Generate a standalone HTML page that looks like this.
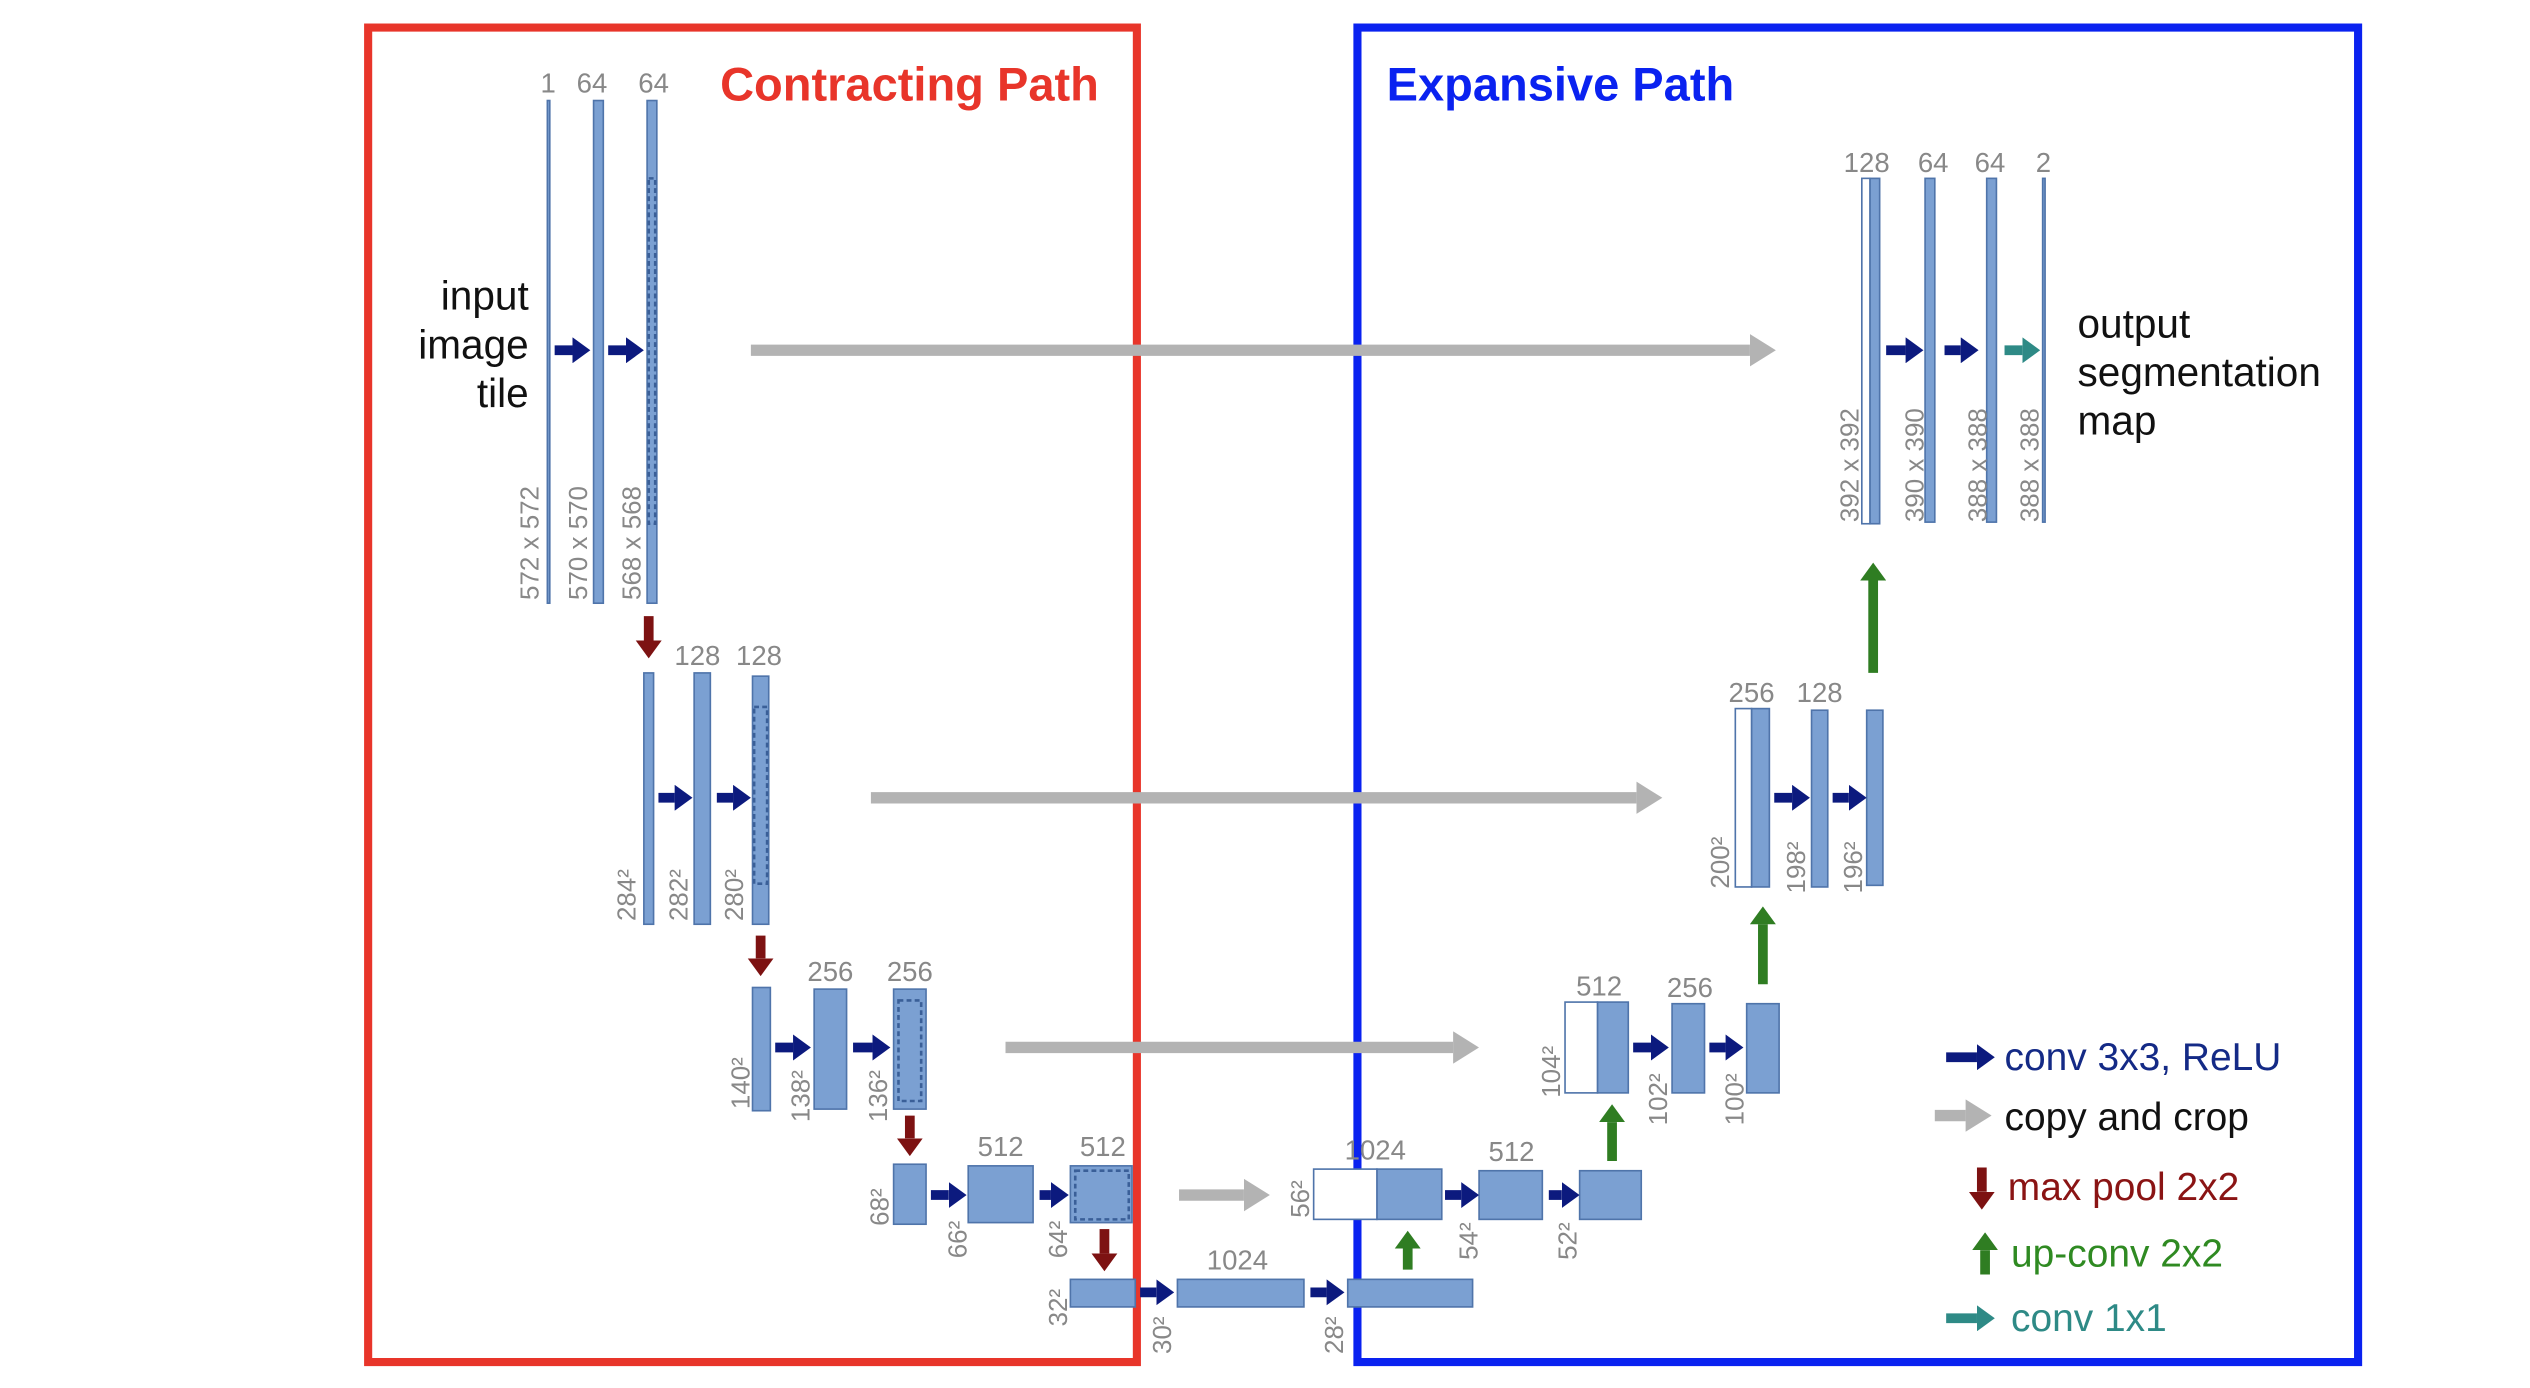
<!DOCTYPE html>
<html><head><meta charset="utf-8"><style>
html,body{margin:0;padding:0;background:#fff;}
svg{display:block}
</style></head><body>
<svg width="2530" height="1388" viewBox="0 0 1560 856" preserveAspectRatio="none" xmlns="http://www.w3.org/2000/svg" font-family="Liberation Sans, sans-serif">
<defs>
<marker id="hn" markerUnits="userSpaceOnUse" markerWidth="11" markerHeight="16" refX="0" refY="8" orient="auto"><path d="M0,0 L11,8 L0,16 z" fill="#0c1a7e"/></marker>
<marker id="hg" markerUnits="userSpaceOnUse" markerWidth="16" markerHeight="20" refX="0" refY="10" orient="auto"><path d="M0,0 L16,10 L0,20 z" fill="#b3b3b3"/></marker>
<marker id="hr" markerUnits="userSpaceOnUse" markerWidth="11" markerHeight="16" refX="0" refY="8" orient="auto"><path d="M0,0 L11,8 L0,16 z" fill="#7d1212"/></marker>
<marker id="hgr" markerUnits="userSpaceOnUse" markerWidth="11" markerHeight="16" refX="0" refY="8" orient="auto"><path d="M0,0 L11,8 L0,16 z" fill="#2f7d22"/></marker>
<marker id="ht" markerUnits="userSpaceOnUse" markerWidth="11" markerHeight="16" refX="0" refY="8" orient="auto"><path d="M0,0 L11,8 L0,16 z" fill="#2e8a86"/></marker>
</defs>

<!-- boxes -->
<rect x="227" y="17" width="474" height="823" fill="none" stroke="#e8352a" stroke-width="5"/>
<rect x="837" y="17" width="617" height="823" fill="none" stroke="#0a22f0" stroke-width="5"/>
<text x="444" y="62" font-family="Liberation Sans, sans-serif" font-weight="bold" font-size="29" fill="#e8352a">Contracting Path</text>
<text x="855" y="62" font-weight="bold" font-size="29" fill="#0a22f0">Expansive Path</text>

<g fill="#7ba0d2" stroke="#4f74aa" stroke-width="1">
<!-- L1 -->
<rect x="337.5" y="62" width="1.5" height="310"/>
<rect x="366" y="62" width="6" height="310"/>
<rect x="399" y="62" width="6" height="310"/>
<!-- L2 -->
<rect x="397" y="415" width="6" height="155"/>
<rect x="428" y="415" width="10" height="155"/>
<rect x="464" y="417" width="10" height="153"/>
<!-- L3 -->
<rect x="464" y="609" width="11" height="76"/>
<rect x="502" y="610" width="20" height="74"/>
<rect x="551" y="610" width="20" height="74"/>
<!-- L4 -->
<rect x="551" y="718" width="20" height="37"/>
<rect x="597" y="719" width="40" height="35"/>
<rect x="660" y="719" width="38" height="35"/>
<!-- L5 -->
<rect x="660" y="789" width="40" height="17"/>
<rect x="726" y="789" width="78" height="17"/>
<rect x="831" y="789" width="77" height="17"/>
<!-- E4 -->
<rect x="849" y="721" width="40" height="31"/>
<rect x="912" y="722" width="39" height="30"/>
<rect x="974" y="722" width="38" height="30"/>
<!-- E3 -->
<rect x="985" y="618" width="19" height="56"/>
<rect x="1031" y="619" width="20" height="55"/>
<rect x="1077" y="619" width="20" height="55"/>
<!-- E2 -->
<rect x="1080" y="437" width="11" height="110"/>
<rect x="1117" y="438" width="10" height="109"/>
<rect x="1151" y="438" width="10" height="108"/>
<!-- E1 -->
<rect x="1153" y="110" width="6" height="213"/>
<rect x="1187" y="110" width="6" height="212"/>
<rect x="1225" y="110" width="6" height="212"/>
<rect x="1259.5" y="110" width="1.5" height="212"/>
</g>
<g fill="#fff" stroke="#4f74aa" stroke-width="1">
<rect x="810" y="721" width="39" height="31"/>
<rect x="965" y="618" width="20" height="56"/>
<rect x="1070" y="437" width="10" height="110"/>
<rect x="1148" y="110" width="5" height="213"/>
</g>
<!-- dashed crops -->
<g fill="none" stroke="#3a5f98" stroke-width="1.6" stroke-dasharray="3,2">
<rect x="400" y="110" width="4" height="213"/>
<rect x="465" y="436" width="8" height="109"/>
<rect x="554" y="617" width="14" height="62"/>
<rect x="663" y="722" width="33" height="30"/>
</g>

<!-- navy conv arrows -->
<g stroke="#0c1a7e" stroke-width="6" marker-end="url(#hn)">
<line x1="342" y1="216" x2="353" y2="216"/>
<line x1="375" y1="216" x2="386" y2="216"/>
<line x1="406" y1="492" x2="416" y2="492"/>
<line x1="442" y1="492" x2="452" y2="492"/>
<line x1="478" y1="646" x2="489" y2="646"/>
<line x1="526" y1="646" x2="538" y2="646"/>
<line x1="574" y1="737" x2="585" y2="737"/>
<line x1="641" y1="737" x2="648" y2="737"/>
<line x1="703" y1="797" x2="713" y2="797"/>
<line x1="808" y1="797" x2="818" y2="797"/>
<line x1="891" y1="737" x2="901" y2="737"/>
<line x1="955" y1="737" x2="963" y2="737"/>
<line x1="1007" y1="646" x2="1018" y2="646"/>
<line x1="1054" y1="646" x2="1064" y2="646"/>
<line x1="1094" y1="492" x2="1105" y2="492"/>
<line x1="1130" y1="492" x2="1140" y2="492"/>
<line x1="1163" y1="216" x2="1175" y2="216"/>
<line x1="1199" y1="216" x2="1209" y2="216"/>
<line x1="1200" y1="652" x2="1219" y2="652"/>
</g>
<g stroke="#2e8a86" stroke-width="6" marker-end="url(#ht)">
<line x1="1236" y1="216" x2="1247" y2="216"/>
<line x1="1200" y1="813" x2="1219" y2="813"/>
</g>
<!-- gray copy arrows -->
<g stroke="#b3b3b3" stroke-width="7" marker-end="url(#hg)">
<line x1="463" y1="216" x2="1079" y2="216"/>
<line x1="537" y1="492" x2="1009" y2="492"/>
<line x1="620" y1="646" x2="896" y2="646"/>
<line x1="727" y1="737" x2="767" y2="737"/>
<line x1="1193" y1="688" x2="1212" y2="688"/>
</g>
<!-- red pool -->
<g stroke="#7d1212" stroke-width="6" marker-end="url(#hr)">
<line x1="400" y1="380" x2="400" y2="395"/>
<line x1="469" y1="577" x2="469" y2="591"/>
<line x1="561" y1="688" x2="561" y2="702"/>
<line x1="681" y1="758" x2="681" y2="773"/>
<line x1="1222" y1="720" x2="1222" y2="735"/>
</g>
<!-- green up -->
<g stroke="#2f7d22" stroke-width="6" marker-end="url(#hgr)">
<line x1="868" y1="783" x2="868" y2="770"/>
<line x1="994" y1="716" x2="994" y2="692"/>
<line x1="1087" y1="607" x2="1087" y2="570"/>
<line x1="1155" y1="415" x2="1155" y2="358"/>
<line x1="1224" y1="786" x2="1224" y2="771"/>
</g>

<!-- channel labels -->
<g fill="#888" font-size="17" text-anchor="middle">
<text x="338" y="57">1</text><text x="365" y="57">64</text><text x="403" y="57">64</text>
<text x="430" y="410">128</text><text x="468" y="410">128</text>
<text x="512" y="605">256</text><text x="561" y="605">256</text>
<text x="617" y="713">512</text><text x="680" y="713">512</text>
<text x="763" y="783">1024</text>
<text x="848" y="715">1024</text><text x="932" y="716">512</text>
<text x="986" y="614">512</text><text x="1042" y="615">256</text>
<text x="1080" y="433">256</text><text x="1122" y="433">128</text>
<text x="1151" y="106">128</text><text x="1192" y="106">64</text><text x="1227" y="106">64</text><text x="1260" y="106">2</text>
</g>
<!-- size labels vertical -->
<g fill="#888" font-size="16">
<text transform="translate(332,370) rotate(-90)">572 x 572</text>
<text transform="translate(362,370) rotate(-90)">570 x 570</text>
<text transform="translate(395,370) rotate(-90)">568 x 568</text>
<text transform="translate(392,568) rotate(-90)">284²</text>
<text transform="translate(424,568) rotate(-90)">282²</text>
<text transform="translate(458,568) rotate(-90)">280²</text>
<text transform="translate(462,684) rotate(-90)">140²</text>
<text transform="translate(499,692) rotate(-90)">138²</text>
<text transform="translate(547,692) rotate(-90)">136²</text>
<text transform="translate(548,756) rotate(-90)">68²</text>
<text transform="translate(596,776) rotate(-90)">66²</text>
<text transform="translate(658,776) rotate(-90)">64²</text>
<text transform="translate(658,818) rotate(-90)">32²</text>
<text transform="translate(722,835) rotate(-90)">30²</text>
<text transform="translate(828,835) rotate(-90)">28²</text>
<text transform="translate(807,751) rotate(-90)">56²</text>
<text transform="translate(911,777) rotate(-90)">54²</text>
<text transform="translate(972,777) rotate(-90)">52²</text>
<text transform="translate(962,677) rotate(-90)">104²</text>
<text transform="translate(1028,694) rotate(-90)">102²</text>
<text transform="translate(1075,694) rotate(-90)">100²</text>
<text transform="translate(1066,548) rotate(-90)">200²</text>
<text transform="translate(1113,551) rotate(-90)">198²</text>
<text transform="translate(1148,551) rotate(-90)">196²</text>
<text transform="translate(1146,322) rotate(-90)">392 x 392</text>
<text transform="translate(1186,322) rotate(-90)">390 x 390</text>
<text transform="translate(1225,322) rotate(-90)">388 x 388</text>
<text transform="translate(1257,322) rotate(-90)">388 x 388</text>
</g>

<g font-size="25" fill="#111">
<text x="326" y="191" text-anchor="end">input</text>
<text x="326" y="221" text-anchor="end">image</text>
<text x="326" y="251" text-anchor="end">tile</text>
<text x="1281" y="208">output</text>
<text x="1281" y="238">segmentation</text>
<text x="1281" y="268">map</text>
</g>
<g font-size="24">
<text x="1236" y="660" fill="#142a86">conv 3x3, ReLU</text>
<text x="1236" y="697" fill="#111">copy and crop</text>
<text x="1238" y="740" fill="#8a1414">max pool 2x2</text>
<text x="1240" y="781" fill="#2f8a22">up-conv 2x2</text>
<text x="1240" y="821" fill="#2e8a86">conv 1x1</text>
</g>
</svg>
</body></html>
